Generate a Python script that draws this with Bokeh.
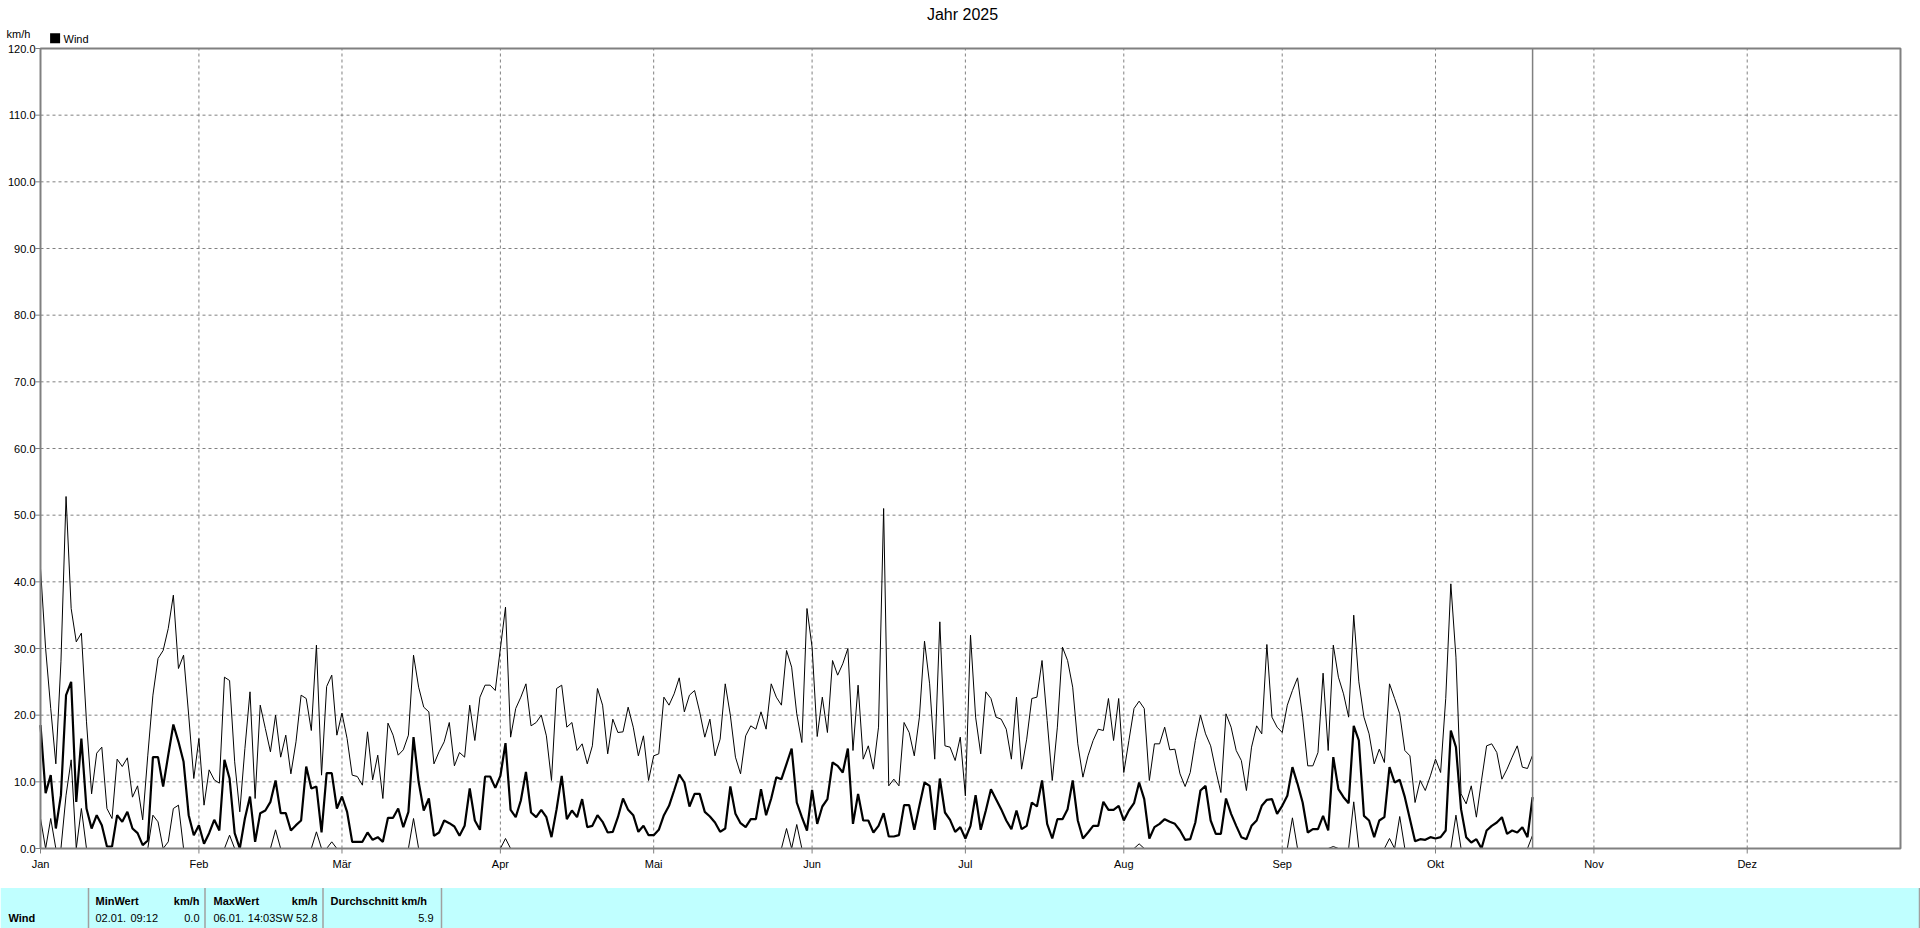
from bokeh.plotting import figure
from bokeh.models import Range1d
from bokeh.core.properties import value
from bokeh.embed import file_html
from bokeh.resources import INLINE

FONT = "Liberation Sans"

month_names = ["Jan", "Feb", "Mär", "Apr", "Mai", "Jun", "Jul", "Aug", "Sep", "Okt", "Nov", "Dez"]
month_start_days = [0, 31, 59, 90, 120, 151, 181, 212, 243, 273, 304, 334]
y_ticks = [0, 10, 20, 30, 40, 50, 60, 70, 80, 90, 100, 110, 120]
year_last_day = 364
y_max = 120
today_day = 292

# daily mean wind (km/h)
mean_jan = [18.5, 8.3, 11, 3, 8, 23, 25, 7, 16.5, 6, 3, 5, 3.5, 0.3, 0.3, 5, 4, 5.5, 3, 2.3,
            0.5, 1.2, 13.7, 13.7, 9.3, 14, 18.6, 16, 13, 5, 2]
mean_feb = [3.5, 0.7, 2.3, 4.3, 2.7, 13.3, 10.5, 2.3, 0, 4.5, 7.8, 1, 5.3, 5.7, 7, 10.2, 5.3, 5.3,
            2.7, 3.5, 4.2, 12.3, 9, 9.3, 2.4, 11.3, 11.3, 6]
mean_mar = [7.8, 5.5, 1, 1, 1, 2.4, 1.3, 1.7, 1, 4.6, 4.6, 6, 3.2, 5.5, 16.7, 10, 5.7, 7.5, 1.9,
            2.4, 4.2, 3.8, 3.3, 1.9, 3.4, 9.0, 4.2, 2.8, 10.8, 10.8, 9.1]
mean_apr = [10.9, 15.8, 5.8, 4.7, 7.2, 11.5, 5.4, 4.7, 5.8, 4.7, 1.7, 5.9, 10.9, 4.4, 5.7, 4.7,
            7.4, 3.2, 3.4, 5.0, 4.0, 2.4, 2.5, 4.7, 7.5, 5.8, 5.0, 2.5, 3.4, 2.0]
mean_may = [2.0, 2.8, 5.0, 6.4, 8.7, 11.1, 9.9, 6.3, 8.2, 8.2, 5.5, 4.8, 3.9, 2.5, 3.0, 9.3, 5.2,
            3.8, 3.2, 4.4, 4.4, 8.9, 5.0, 7.5, 10.7, 10.4, 12.7, 15.0, 6.9, 4.7, 2.7]
mean_jun = [8.8, 3.7, 6.3, 7.4, 12.9, 12.4, 11.4, 15.0, 3.7, 8.2, 4.2, 4.2, 2.4, 3.4, 5.3, 1.8,
            1.8, 2.0, 6.5, 6.5, 2.8, 6.4, 9.9, 9.4, 2.8, 10.5, 5.4, 4.3, 2.5, 3.2]
mean_jul = [1.5, 3.4, 8.0, 2.8, 5.7, 8.9, 7.4, 5.9, 4.2, 2.9, 5.7, 2.9, 3.4, 6.9, 6.3, 10.2, 3.7,
            1.5, 4.4, 4.4, 5.9, 10.2, 4.2, 1.5, 2.4, 3.4, 3.4, 7.0, 5.8, 5.8, 6.4]
mean_aug = [4.2, 5.7, 6.8, 9.9, 7.4, 1.5, 3.2, 3.7, 4.4, 4.0, 3.7, 2.7, 1.3, 1.4, 3.9, 8.7, 9.4,
            4.2, 2.2, 2.2, 7.5, 5.2, 3.4, 1.7, 1.4, 3.4, 4.2, 6.4, 7.3, 7.4, 5.2]
mean_sep = [6.4, 7.9, 12.2, 9.7, 6.9, 2.4, 2.9, 2.9, 4.9, 2.7, 13.7, 8.9, 7.7, 6.8, 18.4, 16.2,
            4.9, 4.2, 1.7, 4.2, 4.7, 12.2, 9.9, 10.3, 7.7, 4.4, 1.1, 1.4, 1.3, 1.7]
mean_oct = [1.5, 1.7, 2.7, 17.7, 15.2, 5.9, 1.7, 0.9, 1.4, 0, 2.7, 3.4, 3.9, 4.7, 2.2, 2.7, 2.4,
            3.2, 1.7, 7.7]

# daily maximum wind (km/h)
max_jan = [42, 30, 21, 12.7, 28, 52.8, 36, 31, 32.3, 19, 8.2, 14.3, 15.2, 6, 4.5, 13.4, 12.3, 13.6,
           7.7, 9.4, 4.3, 14, 23, 28.5, 29.7, 33, 38, 27, 29, 20, 10.5]
max_feb = [16.5, 6.5, 11.8, 10.3, 9.8, 25.7, 25.2, 13, 5.5, 15, 23.5, 7.5, 21.5, 18, 14.5, 20, 13.7,
           17, 11.2, 16, 23, 22.5, 17.7, 30.5, 11, 24.3, 26, 17]
max_mar = [20.3, 16.5, 11, 10.8, 9.5, 17.5, 10.3, 14, 7.5, 18.8, 17, 14, 14.8, 17, 29, 24.2, 21.2,
           20.5, 12.7, 14.5, 16, 18.9, 12.4, 14.4, 13.7, 21.5, 16.2, 22.7, 24.5, 24.5, 23.7]
max_apr = [30, 36.2, 16.7, 21, 22.7, 24.7, 18.4, 18.9, 20, 16.9, 10.2, 24, 24.5, 18.2, 18.9, 14.7,
           15.7, 12.7, 15.4, 24, 21.5, 14.2, 19.4, 17.4, 17.5, 21.2, 18.2, 13.9, 16.9, 10.2]
max_may = [13.9, 14.2, 22.7, 21.5, 23.2, 25.6, 20.5, 23, 23.7, 20.5, 16.7, 19.4, 13.9, 16.4, 24.7,
           20, 13.7, 11.2, 16.9, 18.4, 17.9, 20.5, 17.9, 24.7, 22.7, 21.5, 29.7, 27.2, 20.2, 15.9, 36]
max_jun = [30.2, 16.8, 22.7, 17.4, 28.2, 26, 27.7, 30, 14.7, 24.5, 13.4, 15.4, 11.9, 18.2, 51, 9.4,
           10.4, 9.4, 18.9, 17.4, 13.9, 19.7, 31.1, 24.7, 13.4, 34, 15.4, 15.2, 13.2, 16.7]
max_jul = [7.9, 32, 19.7, 14.2, 23.5, 22.5, 19.7, 19.4, 17.9, 13.4, 22.7, 11.9, 16.4, 22.5, 22.7,
           28.2, 19.2, 10.2, 18.2, 30.2, 28.2, 24.2, 15.7, 10.7, 13.9, 16.2, 17.9, 17.7, 22.5, 16.2, 22.5]
max_aug = [11.4, 16.2, 21, 22.1, 21, 10.2, 15.7, 15.7, 18.2, 14.8, 14.9, 11.2, 9.3, 11.4, 16.2, 20,
           17.2, 15.4, 11.7, 8.4, 20.2, 18.2, 14.7, 13.2, 8.7, 15.2, 18.4, 17.2, 30.6, 19.7, 18.2]
max_sep = [17.4, 21.5, 23.7, 25.6, 19.7, 12.4, 12.4, 14.4, 26.3, 14.7, 30.5, 25.7, 23.2, 19.7, 35,
           25, 19.7, 17.2, 12.7, 14.9, 12.9, 24.7, 22.5, 20.2, 14.7, 13.9, 6.9, 10.2, 8.7, 10.9]
max_oct = [13.4, 11.4, 22.5, 39.7, 28.7, 8.2, 6.7, 9.4, 4.7, 10.2, 15.4, 15.7, 14.4, 10.4, 11.9,
           13.7, 15.4, 12.2, 12, 14]

# daily minimum wind (km/h)
min_jan = [4.5, 0, 4.5, 0, 0, 8, 13.3, 0, 6, 0, 0, 0, 0, 0, 0, 0, 0, 0, 0, 0, 0, 0, 5, 4, 0, 1, 6,
           6.5, 0, 0, 0]
min_feb = [0, 0, 0, 0, 0, 0, 2, 0, 0, 0, 0, 0, 0, 0, 0, 2.8, 0, 0, 0, 0, 0, 0, 0, 2.5, 0, 0, 1, 0]
min_mar = [0, 0, 0, 0, 0, 0, 0, 0, 0, 0, 0, 0, 0, 0, 4.5, 0, 0, 0, 0, 0, 0, 0, 0, 0, 0, 0, 0, 0,
           0, 0, 0]
min_apr = [0, 1.5, 0, 0, 0, 0, 0, 0, 0, 0, 0, 0, 0, 0, 0, 0, 0, 0, 0, 0, 0, 0, 0, 0, 0, 0, 0, 0,
           0, 0]
min_may = [0, 0, 0, 0, 0, 0, 0, 0, 0, 0, 0, 0, 0, 0, 0, 0, 0, 0, 0, 0, 0, 0, 0, 0, 0, 0, 3, 0,
           3.6, 0, 0]
min_jun = [0, 0, 0, 0, 0, 0, 0, 0, 0, 0, 0, 0, 0, 0, 0, 0, 0, 0, 0, 0, 0, 0, 0, 0, 0, 0, 0, 0,
           0, 0]
min_jul = [0, 0, 0, 0, 0, 0, 0, 0, 0, 0, 0, 0, 0, 0, 0, 0, 0, 0, 0, 0, 0, 0, 0, 0, 0, 0, 0, 0,
           0, 0, 0]
min_aug = [0, 0, 0, 0.7, 0, 0, 0, 0, 0, 0, 0, 0, 0, 0, 0, 0, 0, 0, 0, 0, 0, 0, 0, 0, 0, 0, 0, 0,
           0, 0, 0]
min_sep = [0, 0, 4.6, 0, 0, 0, 0, 0, 0, 0, 0.3, 0, 0, 0, 7, 0, 0, 0, 0, 0, 0, 1.5, 0, 4.8, 0, 0,
           0, 0, 0, 0]
min_oct = [0, 0, 0, 0, 5, 0, 0, 0, 0, 0, 0, 0, 0, 0, 0, 0, 0, 0, 0, 2]

wind_mean = (mean_jan + mean_feb + mean_mar + mean_apr + mean_may + mean_jun + mean_jul
             + mean_aug + mean_sep + mean_oct)
wind_max = (max_jan + max_feb + max_mar + max_apr + max_may + max_jun + max_jul + max_aug
            + max_sep + max_oct)
wind_min = (min_jan + min_feb + min_mar + min_apr + min_may + min_jun + min_jul + min_aug
            + min_sep + min_oct)
days = list(range(len(wind_mean)))

# statistics table texts
stat_headers = ["MinWert", "km/h", "MaxWert", "km/h", "Durchschnitt km/h"]
stat_row_name = "Wind"
stat_min_date, stat_min_time, stat_min_val = "02.01.", "09:12", "0.0"
stat_max_date, stat_max_rest = "06.01.", "14:03SW 52.8"
stat_avg = "5.9"

# ---------------- layout (page pixels) ----------------
W, H = 1920, 928
FRAME_L, FRAME_R, FRAME_T, FRAME_B = 40, 1900, 48, 848
KX = (FRAME_R - FRAME_L) / year_last_day      # px per day
KY = (FRAME_B - FRAME_T) / y_max              # px per km/h


def X(px):
    return (px - FRAME_L) / KX


def Y(py):
    return (FRAME_B - py) / KY


GRAY = "#808080"
CYAN = "#C0FFFF"

p = figure(width=W, height=H, x_range=Range1d(X(0), X(W)), y_range=Range1d(Y(H), Y(0)),
           x_axis_location=None, y_axis_location=None, min_border=0, title=None,
           output_backend="svg", toolbar_location=None)
p.outline_line_color = None
p.background_fill_color = "white"
p.border_fill_color = "white"
p.grid.visible = False

# grid
p.segment(x0=month_start_days, y0=[0] * len(month_start_days), x1=month_start_days,
          y1=[y_max] * len(month_start_days), line_color=GRAY, line_width=1, line_dash="3 3")
p.segment(x0=[0] * len(y_ticks), y0=y_ticks, x1=[year_last_day] * len(y_ticks), y1=y_ticks,
          line_color=GRAY, line_width=1, line_dash="3 3")

# data
p.line(days, wind_min, line_color="black", line_width=1)
p.line(days, wind_max, line_color="black", line_width=1)
p.line(days, wind_mean, line_color="black", line_width=2.2)

# today marker
p.segment(x0=[today_day], y0=[0], x1=[today_day], y1=[y_max], line_color=GRAY, line_width=1.5)

# frame
p.quad(left=[0], right=[year_last_day], bottom=[0], top=[y_max], fill_color=None,
       line_color=GRAY, line_width=2)

# y axis ticks & labels
p.segment(x0=[X(35)] * len(y_ticks), y0=y_ticks, x1=[0] * len(y_ticks), y1=y_ticks,
          line_color=GRAY, line_width=1)
p.text(x=[X(35)] * len(y_ticks), y=y_ticks, text=[f"{v:.1f}" for v in y_ticks],
       text_align="right", text_baseline="middle", text_font=value(FONT),
       text_font_size="11px", text_color="black")

# x axis ticks & labels
p.segment(x0=month_start_days, y0=[0] * len(month_start_days), x1=month_start_days,
          y1=[Y(853)] * len(month_start_days), line_color=GRAY, line_width=1)
p.text(x=month_start_days, y=[Y(863)] * len(month_start_days), text=month_names,
       text_align="center", text_baseline="middle", text_font=value(FONT),
       text_font_size="11px", text_color="black")

# title, unit, legend
p.text(x=[X(962)], y=[Y(14)], text=["Jahr 2025"], text_align="center", text_baseline="middle",
       text_font=value(FONT), text_font_size="16px", text_color="black")
p.text(x=[X(6)], y=[Y(33)], text=["km/h"], text_align="left", text_baseline="middle",
       text_font=value(FONT), text_font_size="11px", text_color="black")
p.scatter(x=[X(54.6)], y=[Y(37.7)], marker="square", size=10, fill_color="black", line_color=None)
p.text(x=[X(63)], y=[Y(38)], text=["Wind"], text_align="left", text_baseline="middle",
       text_font=value(FONT), text_font_size="11px", text_color="black")

# statistics table
p.quad(left=[X(0)], right=[X(W)], bottom=[Y(H)], top=[Y(887.5)], fill_color=CYAN, line_color=None)
sep_px = [88, 204.5, 322.5, 441, 1919]
p.segment(x0=[X(s) for s in sep_px], y0=[Y(887.5)] * len(sep_px), x1=[X(s) for s in sep_px],
          y1=[Y(H)] * len(sep_px), line_color="#A0A0A0", line_width=1.5)

hdr_x = [95, 199, 213, 317, 330]
hdr_align = ["left", "right", "left", "right", "left"]
for hx, ha, ht in zip(hdr_x, hdr_align, stat_headers):
    p.text(x=[X(hx)], y=[Y(900.5)], text=[ht], text_align=ha, text_baseline="middle",
           text_font=value(FONT), text_font_size="11px", text_font_style="bold", text_color="black")
p.text(x=[X(8)], y=[Y(917)], text=[stat_row_name], text_align="left", text_baseline="middle",
       text_font=value(FONT), text_font_size="11px", text_font_style="bold", text_color="black")

row_items = [(95, "left", stat_min_date), (130, "left", stat_min_time), (199, "right", stat_min_val),
             (213, "left", stat_max_date), (317, "right", stat_max_rest), (433, "right", stat_avg)]
for rx, ra, rt in row_items:
    p.text(x=[X(rx)], y=[Y(917)], text=[rt], text_align=ra, text_baseline="middle",
           text_font=value(FONT), text_font_size="11px", text_color="black")

open("out.html", "w").write(file_html(p, INLINE))
